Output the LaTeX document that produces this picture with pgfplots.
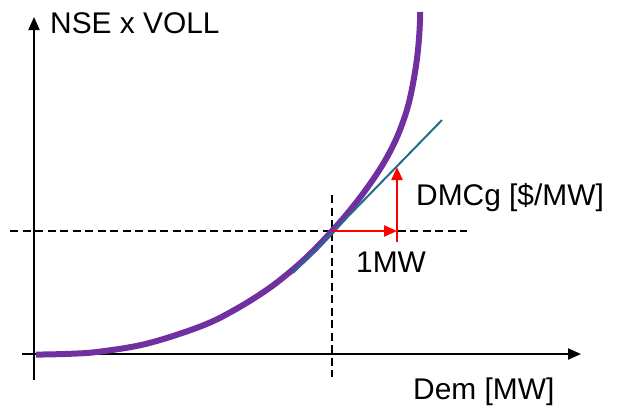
\documentclass[border=0pt]{standalone}
\usepackage{pgfplots}
\pgfplotsset{compat=1.18}
\usetikzlibrary{arrows.meta}
\usepackage{fontspec}
\setmainfont{Liberation Sans}
\definecolor{cpurple}{HTML}{7030A0}
\definecolor{cteal}{HTML}{1F6E8C}
\tikzset{lbl/.style={anchor=base west, inner sep=0pt, font=\fontsize{30}{36}\selectfont}}
\begin{document}
\begin{tikzpicture}
\begin{axis}[
  x=1bp, y=1bp,
  xmin=0, xmax=623, ymin=0, ymax=407,
  y dir=reverse,
  axis lines=none,
  clip=false,
]
% dashed guides
\addplot[black, line width=2bp, dash pattern=on 8bp off 4.5bp] coordinates {(10,231) (467,231)};
\addplot[black, line width=2bp, dash pattern=on 8bp off 4.5bp] coordinates {(332,195) (332,377)};
% axes
\addplot[black, line width=2bp, -{Triangle[length=13bp,width=11bp]}] coordinates {(34,380) (34,17)};
\addplot[black, line width=2bp, -{Triangle[length=13bp,width=11bp]}] coordinates {(22,354) (581,354)};
% curve
\addplot[cpurple, line width=6bp, smooth, tension=0.6] coordinates {
 (36,354.6) (70,353.8) (100,351.6) (147,343.6) (200,326.6) (233,310.8) (267,289.7)
 (293,269.4) (313,251) (332,231) (349,211.5) (367,188.1) (383,164.1) (396,139.4)
 (405,116) (410,98) (414,78) (417,58.5) (419,38.5) (420,20.5) (420,12)};
% tangent
\addplot[cteal, line width=2bp] coordinates {(293,273) (442,120)};
% red arrows
\addplot[red, line width=2.2bp, -{Triangle[length=13bp,width=11bp]}] coordinates {(332,231) (397,231)};
\addplot[red, line width=2.2bp, -{Triangle[length=13bp,width=11bp]}] coordinates {(397,242) (397,167)};
% labels
\node[lbl] at (axis cs:50,33) {NSE x VOLL};
\node[lbl] at (axis cs:416,205) {DMCg [\$/MW]};
\node[lbl] at (axis cs:356,272) {1MW};
\node[lbl] at (axis cs:413,399) {Dem [MW]};
\end{axis}
\pgfresetboundingbox
\path (current axis.south west) rectangle (current axis.north east);
\end{tikzpicture}
\end{document}
